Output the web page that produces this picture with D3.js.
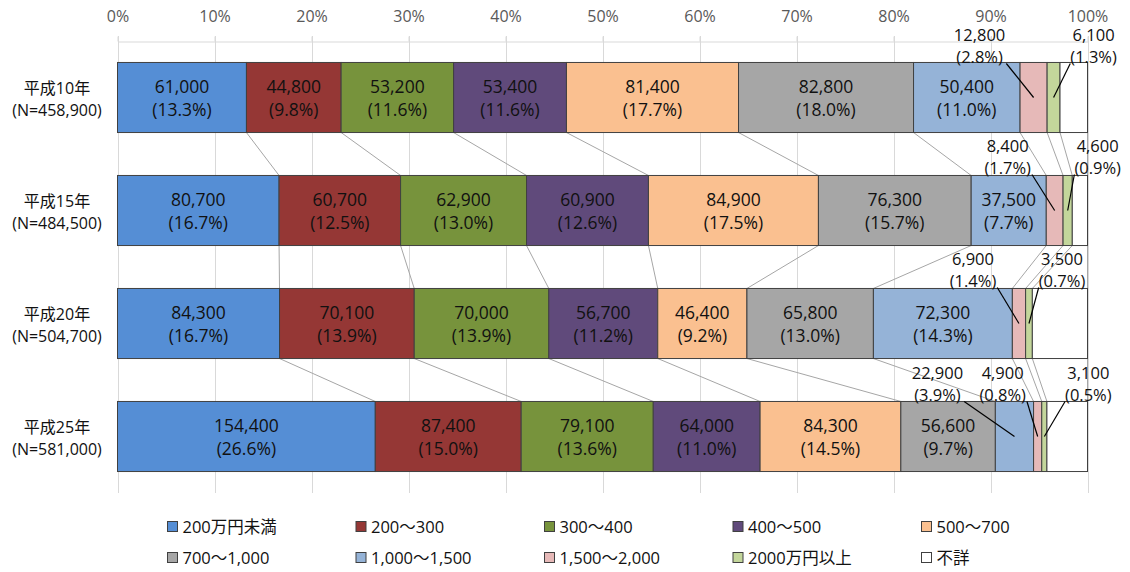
<!DOCTYPE html>
<html>
<head>
<meta charset="utf-8">
<script src="https://cdn.jsdelivr.net/npm/d3@7"></script>
<style>
  html, body { margin: 0; padding: 0; background: #fff; }
  svg { display: block; font-family: "Open Sans", "Noto Sans CJK JP", sans-serif; }
</style>
</head>
<body>
<svg id="chart" width="1130" height="572"></svg>
<script>
// Household income distribution by survey year (households, 万円 brackets)
const categories = ["平成10年", "平成15年", "平成20年", "平成25年"];
const totals = [458900, 484500, 504700, 581000];
const seriesNames = ["200万円未満", "200～300", "300～400", "400～500", "500～700",
  "700～1,000", "1,000～1,500", "1,500～2,000", "2000万円以上", "不詳"];

const under200   = [61000, 80700, 84300, 154400];
const r200to300  = [44800, 60700, 70100, 87400];
const r300to400  = [53200, 62900, 70000, 79100];
const r400to500  = [53400, 60900, 56700, 64000];
const r500to700  = [81400, 84900, 46400, 84300];
const r700to1000 = [82800, 76300, 65800, 56600];
const r1000to1500 = [50400, 37500, 72300, 22900];
const r1500to2000 = [12800, 8400, 6900, 4900];
const over2000   = [6100, 4600, 3500, 3100];
const unknown    = [13000, 7600, 28700, 24300];

const seriesValues = [under200, r200to300, r300to400, r400to500, r500to700,
  r700to1000, r1000to1500, r1500to2000, over2000, unknown];

const tickValues = [0, 0.1, 0.2, 0.3, 0.4, 0.5, 0.6, 0.7, 0.8, 0.9, 1.0];

// styling
const colors = ["#558ED5", "#953735", "#77933C", "#604A7B", "#FAC090",
  "#A6A6A6", "#95B3D7", "#E6B9B8", "#C3D69B", "#FFFFFF"];

// segments whose labels sit outside the bar with a leader line: [year, series, dx, dy]
const callouts = [
  [0, 7, -54, -52], [0, 8, 40, -52],
  [1, 7, -47, -54], [1, 8, 30, -54],
  [2, 7, -46, -54], [2, 8, 33, -54],
  [3, 6, -77, -53], [3, 7, -35, -53], [3, 8, 44, -53]
];

const svg = d3.select("#chart");
const x = d3.scaleLinear().domain([0, 1]).range([117.5, 1087.5]);
const y = d3.scaleBand().domain(categories).range([41, 493]).paddingInner(0.38).paddingOuter(0.19);

// rows of shares
const rows = categories.map((c, i) => {
  const r = { cat: c };
  seriesNames.forEach((s, k) => { r[s] = seriesValues[k][i] / totals[i]; });
  return r;
});
const stacked = d3.stack().keys(seriesNames)(rows);

// gridlines
svg.append("g").selectAll("line").data(tickValues).join("line")
  .attr("x1", d => Math.round(x(d)) + 0.5).attr("x2", d => Math.round(x(d)) + 0.5)
  .attr("y1", 36).attr("y2", 493)
  .attr("stroke", "#D9D9D9").attr("stroke-width", 1);

// top axis
const axis = svg.append("g").attr("transform", "translate(0,41.5)")
  .call(d3.axisTop(x).tickValues(tickValues).tickFormat(d3.format(".0%")).tickSizeInner(5).tickSizeOuter(0).tickPadding(14.5));
axis.select(".domain").attr("stroke", "#D9D9D9");
axis.selectAll(".tick line").attr("stroke", "#D9D9D9");
axis.selectAll(".tick text").attr("fill", "#595959").attr("font-size", 16)
  .attr("font-family", "'Open Sans', sans-serif");

// series lines between consecutive bars
const seriesLines = svg.append("g");
stacked.forEach(layer => {
  for (let i = 0; i < categories.length - 1; i++) {
    seriesLines.append("line")
      .attr("x1", x(layer[i][1])).attr("y1", y(categories[i]) + y.bandwidth())
      .attr("x2", x(layer[i + 1][1])).attr("y2", y(categories[i + 1]))
      .attr("stroke", "#A6A6A6").attr("stroke-width", 1);
  }
});

// bars
svg.append("g").selectAll("g").data(stacked).join("g")
  .attr("fill", (d, k) => colors[k])
  .selectAll("rect").data(d => d).join("rect")
  .attr("x", d => x(d[0])).attr("width", d => x(d[1]) - x(d[0]))
  .attr("y", d => y(d.data.cat)).attr("height", y.bandwidth())
  .attr("stroke", "#404040").attr("stroke-width", 1);

const fmtN = d3.format(",");
const fmtP = d3.format(".1%");
const isCallout = (i, k) => callouts.some(c => c[0] === i && c[1] === k);

// labels inside segments
const inner = svg.append("g").attr("font-size", 17.5).attr("fill", "#111").attr("text-anchor", "middle");
stacked.forEach((layer, k) => {
  if (k === seriesNames.length - 1) return;
  layer.forEach((d, i) => {
    if (isCallout(i, k)) return;
    const cx = (x(d[0]) + x(d[1])) / 2;
    const cy = y(categories[i]) + y.bandwidth() / 2;
    inner.append("text").attr("x", cx).attr("y", cy - 5).text(fmtN(seriesValues[k][i]));
    inner.append("text").attr("x", cx).attr("y", cy + 18).text("(" + fmtP(seriesValues[k][i] / totals[i]) + ")");
  });
});

// callout labels with leader lines
const outer = svg.append("g").attr("font-size", 16.5).attr("fill", "#111").attr("text-anchor", "middle");
callouts.forEach(([i, k, dx, dy]) => {
  const d = stacked[k][i];
  const px = (x(d[0]) + x(d[1])) / 2;
  const py = y(categories[i]) + y.bandwidth() / 2;
  const lx = px + dx, ly = py + dy;
  const t1 = outer.append("text").attr("x", lx).attr("y", ly - 5).text(fmtN(seriesValues[k][i]));
  const t2 = outer.append("text").attr("x", lx).attr("y", ly + 17).text("(" + fmtP(seriesValues[k][i] / totals[i]) + ")");
  const w = Math.max(t1.node().getComputedTextLength(), t2.node().getComputedTextLength());
  const sx = dx < 0 ? lx + w / 2 + 1 : lx - w / 2;
  const sy = ly + 18;
  svg.append("line").attr("x1", sx).attr("y1", sy).attr("x2", px).attr("y2", py)
    .attr("stroke", "#000").attr("stroke-width", 1.2);
});

// category labels
const cats = svg.append("g").attr("font-size", 16).attr("fill", "#111").attr("text-anchor", "middle");
categories.forEach((c, i) => {
  const cy = y(c) + y.bandwidth() / 2;
  cats.append("text").attr("x", 57).attr("y", cy - 4).text(c);
  cats.append("text").attr("x", 57).attr("y", cy + 18).text("(N=" + fmtN(totals[i]) + ")");
});

// legend
const legend = svg.append("g").attr("font-size", 16.5).attr("fill", "#111");
seriesNames.forEach((s, k) => {
  const col = k % 5, row = Math.floor(k / 5);
  const lx = 167.5 + col * 188.5, ly = 521.5 + row * 31;
  legend.append("rect").attr("x", lx).attr("y", ly).attr("width", 10).attr("height", 10)
    .attr("fill", colors[k]).attr("stroke", "#404040").attr("stroke-width", 1);
  legend.append("text").attr("x", lx + 15).attr("y", ly + 11).text(s);
});
</script>
</body>
</html>
